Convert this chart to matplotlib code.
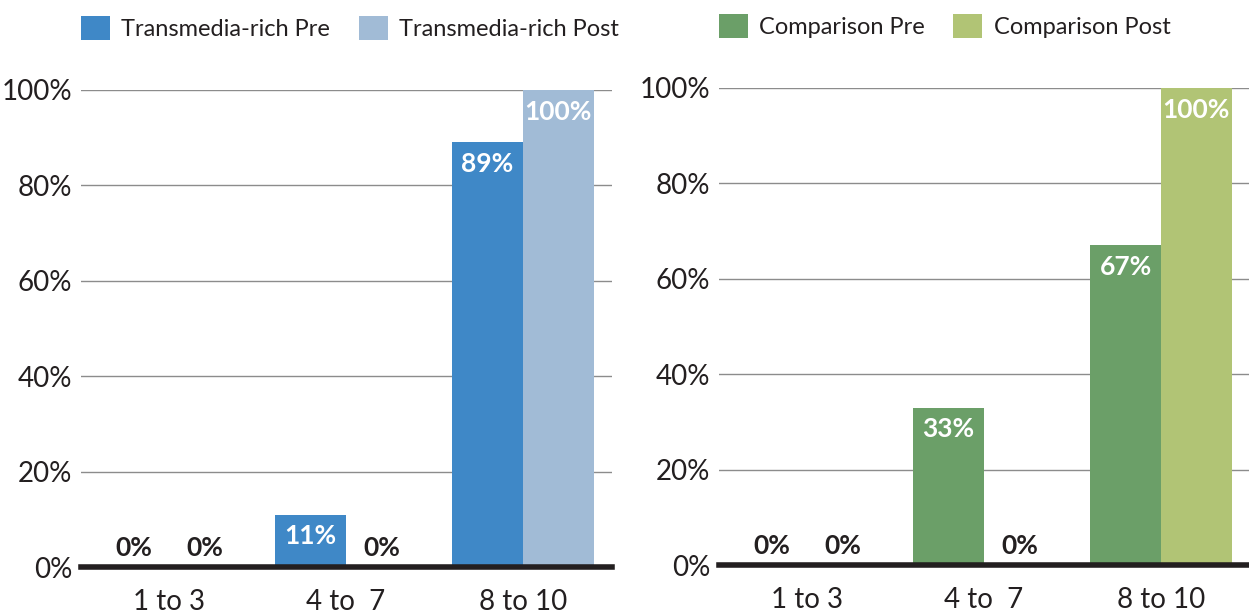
import matplotlib
matplotlib.use("Agg")
import matplotlib.pyplot as plt
import numpy as np

categories = ["1 to 3", "4 to  7", "8 to 10"]
trans_pre = [0, 11, 89]
trans_post = [0, 0, 100]
comp_pre = [0, 33, 67]
comp_post = [0, 0, 100]
yticks = [0, 20, 40, 60, 80, 100]

plt.rcParams['font.family'] = ['Lato', 'DejaVu Sans']
TXT = '#231f20'


def draw_panel(ax, pre, post, pre_lab, post_lab, c_pre, c_post):
    x = np.arange(len(categories))
    w = 0.4
    b1 = ax.bar(x - w / 2, pre, w, color=c_pre, label=pre_lab, zorder=3)
    b2 = ax.bar(x + w / 2, post, w, color=c_post, label=post_lab, zorder=3)
    for bars, vals in ((b1, pre), (b2, post)):
        for b, v in zip(bars, vals):
            cx = b.get_x() + b.get_width() / 2
            if v > 5:
                ax.annotate(f"{v}%", (cx, v), xytext=(0, -7), textcoords='offset points',
                            ha='center', va='top', color='white', fontsize=19,
                            fontweight='bold', zorder=4)
            else:
                ax.annotate(f"{v}%", (cx, 0), xytext=(0, 5), textcoords='offset points',
                            ha='center', va='bottom', color=TXT, fontsize=19,
                            fontweight='bold', zorder=4)
    ax.set_xlim(-0.5, 2.5)
    ax.set_ylim(0, 100)
    ax.set_yticks(yticks)
    ax.set_yticklabels([f"{t}%" for t in yticks])
    ax.set_xticks(x)
    ax.set_xticklabels(categories)
    ax.tick_params(axis='y', length=0, pad=6, labelsize=20, labelcolor=TXT)
    ax.tick_params(axis='x', length=0, pad=16, labelsize=20, labelcolor=TXT)
    for t in yticks[1:]:
        ax.axhline(t, color='#8c8c8c', lw=1, zorder=1)
    ax.axhline(0, color=TXT, lw=4, zorder=5, clip_on=False)
    for s in ax.spines.values():
        s.set_visible(False)
    ax.legend(loc='lower left', bbox_to_anchor=(0, 1.105), ncol=2, frameon=False,
              fontsize=17, handlelength=1.23, handleheight=1.15, handletextpad=0.5,
              columnspacing=1.2, borderaxespad=0, borderpad=0, labelcolor=TXT)


fig = plt.figure(figsize=(12.49, 6.14), dpi=100)
ax1 = fig.add_axes([80.5 / 1249, 47 / 614, 531 / 1249, 477 / 614])
ax2 = fig.add_axes([718.5 / 1249, 49 / 614, 531 / 1249, 477 / 614])

draw_panel(ax1, trans_pre, trans_post, "Transmedia-rich Pre", "Transmedia-rich Post",
           '#3f88c7', '#a1bbd6')
draw_panel(ax2, comp_pre, comp_post, "Comparison Pre", "Comparison Post",
           '#6b9f68', '#b1c475')

fig.savefig("out.png", dpi=100)
